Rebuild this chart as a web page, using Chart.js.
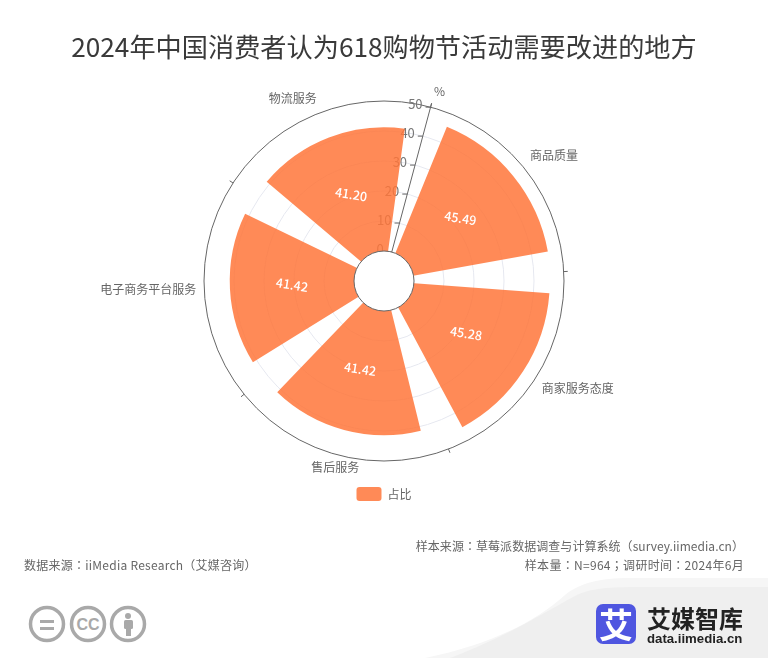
<!DOCTYPE html>
<html lang="zh">
<head>
  <meta charset="UTF-8">
  <title>2024年中国消费者认为618购物节活动需要改进的地方</title>
  <script src="https://cdn.jsdelivr.net/npm/chart.js"></script>
  <style>
    html, body { margin: 0; padding: 0; background: #fff; }
    #wrap { position: relative; width: 768px; height: 658px; overflow: hidden; font-family: "Noto Sans CJK SC", sans-serif; }
    #bg { position: absolute; left: 0; top: 0; }
    #grafico { position: absolute; left: 0; top: 0; }
    .txt { position: absolute; white-space: nowrap; color: #666; font-size: 12px; line-height: 16px; }
    .rod { font-family: "Noto Sans CJK TC", sans-serif; }
    #titulo { left: 0; width: 768px; top: 26px; text-align: center; color: #3a3a3a; font-size: 26.2px; line-height: 40px; }
    .logo1 { left: 647px; top: 603px; font-size: 24px; line-height: 30px; font-weight: 700; color: #222; }
    .logo2 { left: 647px; top: 630px; font-size: 13.2px; line-height: 18px; font-weight: 700; color: #222; font-family: "Liberation Sans", sans-serif; }
    .logo3 { left: 596px; width: 40px; top: 602px; text-align: center; font-size: 34px; line-height: 44px; font-weight: 700; color: #fff; }
  </style>
</head>
<body>
<div id="wrap">
  <svg id="bg" width="768" height="658">
    <path d="M425 658 C490 645 535 622 565 595 C580 583 600 578 630 578 L768 578 L768 658 Z" fill="#f6f6f6"/>
    <path d="M450 658 C510 635 545 612 575 596 C590 588 610 587 640 587 L768 587 L768 658 Z" fill="#efefef"/>
    <rect x="596" y="604" width="40" height="40" rx="7" fill="#4f56e0"/>
    <g fill="none" stroke="#a9a9a9" stroke-width="3.5">
      <circle cx="47" cy="624" r="16.5"/>
      <circle cx="88" cy="624" r="16.5"/>
      <circle cx="128" cy="624" r="16.5"/>
    </g>
    <g fill="#a9a9a9">
      <rect x="40" y="620" width="14" height="3"/>
      <rect x="40" y="627" width="14" height="3"/>
      <circle cx="128" cy="616" r="3"/>
      <rect x="124" y="620" width="9" height="9" rx="1.5"/>
      <rect x="126" y="628" width="5" height="8"/>
      <text x="88" y="630" text-anchor="middle" font-family="Liberation Sans" font-weight="700" font-size="16">CC</text>
    </g>
  </svg>
  <canvas id="grafico" width="768" height="658"></canvas>
  <div class="txt" id="titulo">2024年中国消费者认为618购物节活动需要改进的地方</div>
  <div class="txt rod" lang="zh-TW" style="right:24px;top:538px;letter-spacing:.05px">样本来源：草莓派数据调查与计算系统（survey.iimedia.cn）</div>
  <div class="txt rod" lang="zh-TW" style="right:24px;top:557px;letter-spacing:.3px">样本量：N=964；调研时间：2024年6月</div>
  <div class="txt rod" lang="zh-TW" style="left:24px;top:557px;letter-spacing:.25px">数据来源：iiMedia Research（艾媒咨询）</div>
  <div class="txt logo3">艾</div>
  <div class="txt logo1">艾媒智库</div>
  <div class="txt logo2">data.iimedia.cn</div>
</div>
<script>
  const categorias = ["商品质量", "商家服务态度", "售后服务", "电子商务平台服务", "物流服务"];
  const valores = [45.49, 45.28, 41.42, 41.42, 41.20];
  const nomeSerie = "占比";
  const unidade = "%";

  const corBarra = "rgba(255,117,58,0.85)";
  const inicio = 15;       // degrees, where the axis sits
  const passo = 360 / categorias.length;
  const largura = passo * 0.8;

  // polar slices alternate gap / bar so the bars get angular spacing
  const labels = [], dados = [], angulos = [];
  categorias.forEach((c, i) => {
    labels.push("", c);
    dados.push(null, valores[i]);
    angulos.push(i === 0 ? (passo - largura) / 2 : passo - largura, largura);
  });

  const eixoPlugin = {
    id: "eixo",
    beforeDatasetsDraw(chart) {
      const r = chart.scales.r, ctx = chart.ctx;
      const topo = r.getDistanceFromCenterForValue(50);
      ctx.save();
      ctx.strokeStyle = "#666";
      ctx.lineWidth = 1;
      // outer ticks every sector
      for (let i = 0; i < categorias.length; i++) {
        const a = r.getPointPosition(i * 2, topo), b = r.getPointPosition(i * 2, topo + 4);
        ctx.beginPath(); ctx.moveTo(a.x, a.y); ctx.lineTo(b.x, b.y); ctx.stroke();
      }
      // value axis
      const a0 = r.getPointPosition(0, r.getDistanceFromCenterForValue(0));
      const a1 = r.getPointPosition(0, topo + 4);
      ctx.beginPath(); ctx.moveTo(a0.x, a0.y); ctx.lineTo(a1.x, a1.y); ctx.stroke();
      ctx.font = '13px "Noto Sans CJK SC"';
      ctx.textAlign = "right";
      ctx.textBaseline = "middle";
      r.ticks.forEach(t => {
        if (t.value < 0) return;
        const p = r.getPointPosition(0, r.getDistanceFromCenterForValue(t.value));
        ctx.beginPath(); ctx.moveTo(p.x, p.y); ctx.lineTo(p.x - 5, p.y); ctx.stroke();
        ctx.fillStyle = "#777";
        ctx.fillText(t.label, p.x - 8, p.y - 3);
      });
      const u = r.getPointPosition(0, topo + 15);
      ctx.textAlign = "center";
      ctx.font = '12px "Noto Sans CJK SC"';
      ctx.fillStyle = "#666";
      ctx.fillText(unidade, u.x + 5, u.y - 1);
      ctx.restore();
    },
    afterDatasetsDraw(chart) {
      const r = chart.scales.r, ctx = chart.ctx;
      ctx.save();
      // hole in the middle
      ctx.beginPath();
      ctx.arc(r.xCenter, r.yCenter, r.getDistanceFromCenterForValue(0), 0, Math.PI * 2);
      ctx.fillStyle = "#fff";
      ctx.fill();
      ctx.strokeStyle = "#666";
      ctx.lineWidth = 1;
      ctx.stroke();

      // value labels
      dados.forEach((v, i) => {
        if (v === null) return;
        const p = r.getPointPosition(i, r.getDistanceFromCenterForValue(v / 2));
        ctx.save();
        ctx.translate(p.x, p.y - 1);
        ctx.rotate(9 * Math.PI / 180);
        ctx.font = '500 12.5px "Noto Sans CJK SC"';
        ctx.textAlign = "center";
        ctx.textBaseline = "middle";
        ctx.fillStyle = "#fff";
        ctx.fillText(v.toFixed(2), 0, 0);
        ctx.restore();
      });

      // category labels
      ctx.font = '12px "Noto Sans CJK SC"';
      ctx.fillStyle = "#666";
      labels.forEach((txt, i) => {
        if (!txt) return;
        const p = r.getPointPosition(i, r.getDistanceFromCenterForValue(50) + 8);
        const dx = p.x - r.xCenter, dy = p.y - r.yCenter;
        ctx.textAlign = Math.abs(dx) < 60 ? "center" : (dx > 0 ? "left" : "right");
        ctx.textBaseline = dy > 60 ? "top" : (dy < -100 ? "bottom" : "middle");
        ctx.fillText(txt, p.x, p.y - 1);
      });
      ctx.restore();
    }
  };

  new Chart(document.getElementById("grafico"), {
    type: "polarArea",
    data: {
      labels: labels,
      datasets: [{
        label: nomeSerie,
        data: dados,
        backgroundColor: corBarra,
        borderWidth: 0,
        angle: angulos
      }]
    },
    plugins: [eixoPlugin],
    options: {
      responsive: false,
      animation: false,
      layout: { padding: { left: 204, right: 204, top: 100, bottom: 147 } },
      scales: {
        r: {
          min: -10,
          max: 50,
          startAngle: inicio,
          ticks: { stepSize: 10, display: false },
          angleLines: { display: false },
          pointLabels: { display: false },
          grid: {
            circular: true,
            lineWidth: 1,
            color: ctx => ctx.tick.value === 50 ? "#666" : "#e6e8f0"
          }
        }
      },
      plugins: {
        tooltip: { enabled: false },
        legend: {
          position: "bottom",
          labels: {
            boxWidth: 25,
            boxHeight: 14,
            padding: 25,
            useBorderRadius: true,
            borderRadius: 3,
            color: "#666",
            font: { size: 12, family: '"Noto Sans CJK SC"' },
            generateLabels: () => [{
              text: nomeSerie,
              fillStyle: corBarra,
              strokeStyle: corBarra,
              lineWidth: 0,
              borderRadius: 3,
              fontColor: "#666"
            }]
          }
        }
      }
    }
  });
</script>
</body>
</html>
